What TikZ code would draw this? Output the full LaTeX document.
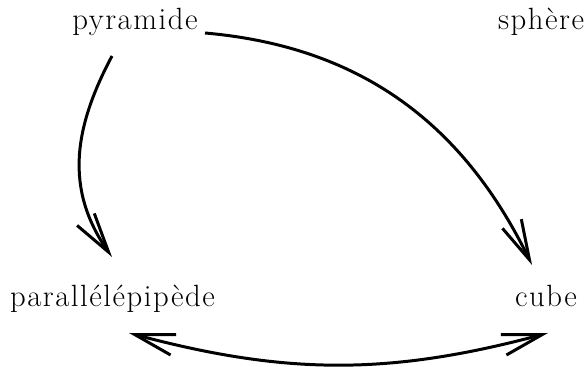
\documentclass[tikz,border=0pt]{standalone}
\usepackage{fontspec}
\setmainfont{Latin Modern Roman}[LetterSpace=5]
\usepackage{tikz}
\usetikzlibrary{arrows.meta}
\tikzset{
  objnode/.style={anchor=base, inner sep=0pt,
                  font=\fontsize{17.5}{20}\selectfont},
  arr/.style ={-{Straight Barb[length=8mm,width=4.2mm]}, line width=1.7pt},
  darr/.style={{Straight Barb[length=8mm,width=4.2mm]}-{Straight Barb[length=8mm,width=4.2mm]},
               line width=1.7pt},
}
\begin{document}
\begin{tikzpicture}[x=0.02cm,y=-0.02cm]
  \useasboundingbox (0,0) rectangle (585,367);
  %% the four solids
  \node[objnode] (pyr) at (135,30)  {pyramide};
  \node[objnode] (sph) at (541,30)  {sphère};
  \node[objnode] (par) at (112.5,307) {parallélépipède};
  \node[objnode] (cub) at (546,307) {cube};
  %% connectors
  \draw[arr] ([shift={(-23,26)}]pyr.base) to[out=242,in=125,looseness=1.05]
             ([shift={(-0.5,-50)}]par.base);
  \draw[arr] ([shift={(70,3)}]pyr.base) to[out=-5,in=116]
             ([shift={(-14,-42)}]cub.base);
  \draw[darr] ([shift={(16.5,26)}]par.base) to[out=-15,in=195]
              ([shift={(2,26)}]cub.base);
\end{tikzpicture}
\end{document}
